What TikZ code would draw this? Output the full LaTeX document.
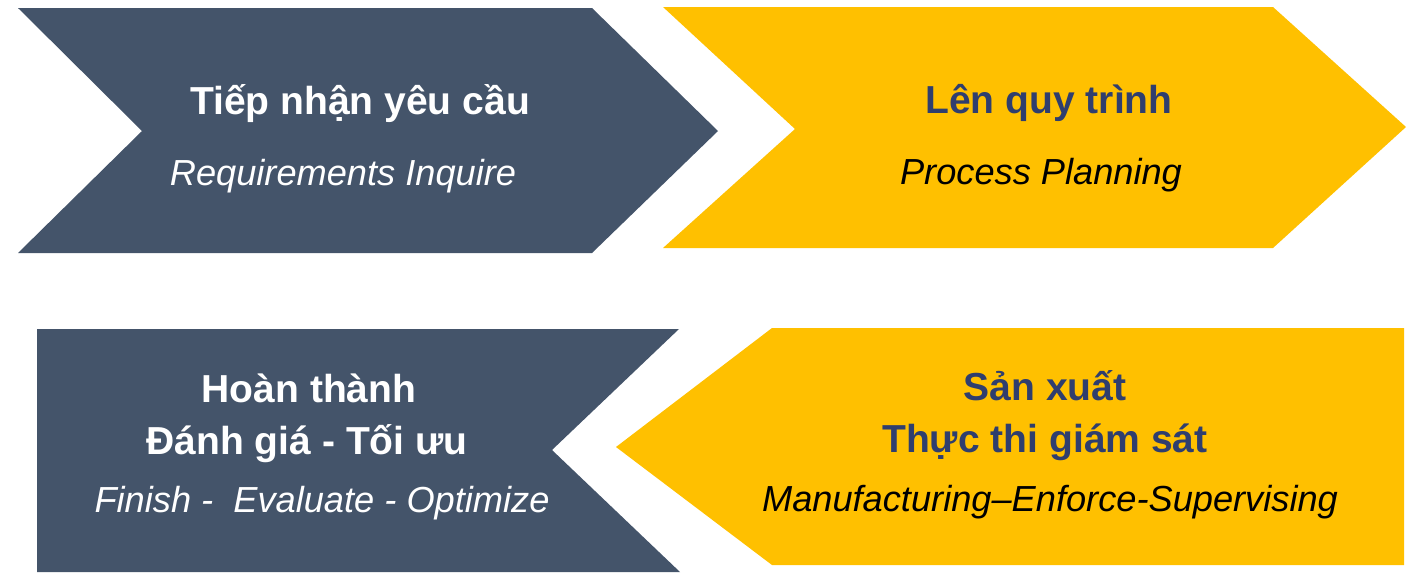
\documentclass[tikz,border=0pt]{standalone}
\usepackage{fontspec}
\setmainfont{Liberation Sans}
\definecolor{slate}{HTML}{44546A}
\definecolor{amber}{HTML}{FFC000}
\definecolor{navy}{HTML}{2F3E6E}
\tikzset{
  head/.style={font=\bfseries\fontsize{11.1}{14.8}\selectfont, anchor=base},
  sub/.style={font=\itshape\fontsize{10.3}{12}\selectfont, anchor=base},
}
\begin{document}
\begin{tikzpicture}[x=0.01cm,y=-0.01cm]
\useasboundingbox (0,0) rectangle (1414,572);
% chevrons
\fill[slate] (18,8) -- (592,8) -- (718,131) -- (592,253) -- (18,253) -- (142,131) -- cycle;
\fill[amber] (663,7) -- (1273,7) -- (1406,127) -- (1273,248) -- (663,248) -- (795,129) -- cycle;
\fill[slate] (37,329) -- (679,329) -- (552,450) -- (680,572) -- (37,572) -- cycle;
\fill[amber] (616,447) -- (772,328) -- (1404,328) -- (1404,565) -- (772,565) -- cycle;
% step 1
\node[head,text=white] (req) at (360,114) {Tiếp nhận yêu cầu};
\node[sub,text=white] (reqen) at (343,185) {Requirements Inquire};
% step 2
\node[head,text=navy] (plan) at (1049,113) {Lên quy trình};
\node[sub] (planen) at (1041,184) {Process Planning};
% step 3
\node[head,text=navy] (prod) at (1045,400) {Sản xuất};
\node[head,text=navy] (prodb) at (1045,452) {Thực thi giám sát};
\node[sub] (proden) at (1050,511) {Manufacturing–Enforce-Supervising};
% step 4
\node[head,text=white] (done) at (309,402) {Hoàn thành};
\node[head,text=white] (doneb) at (307,454) {Đánh giá - Tối ưu};
\node[sub,text=white] (doneen) at (322,512) {Finish -\ \ Evaluate - Optimize};
\end{tikzpicture}
\end{document}
